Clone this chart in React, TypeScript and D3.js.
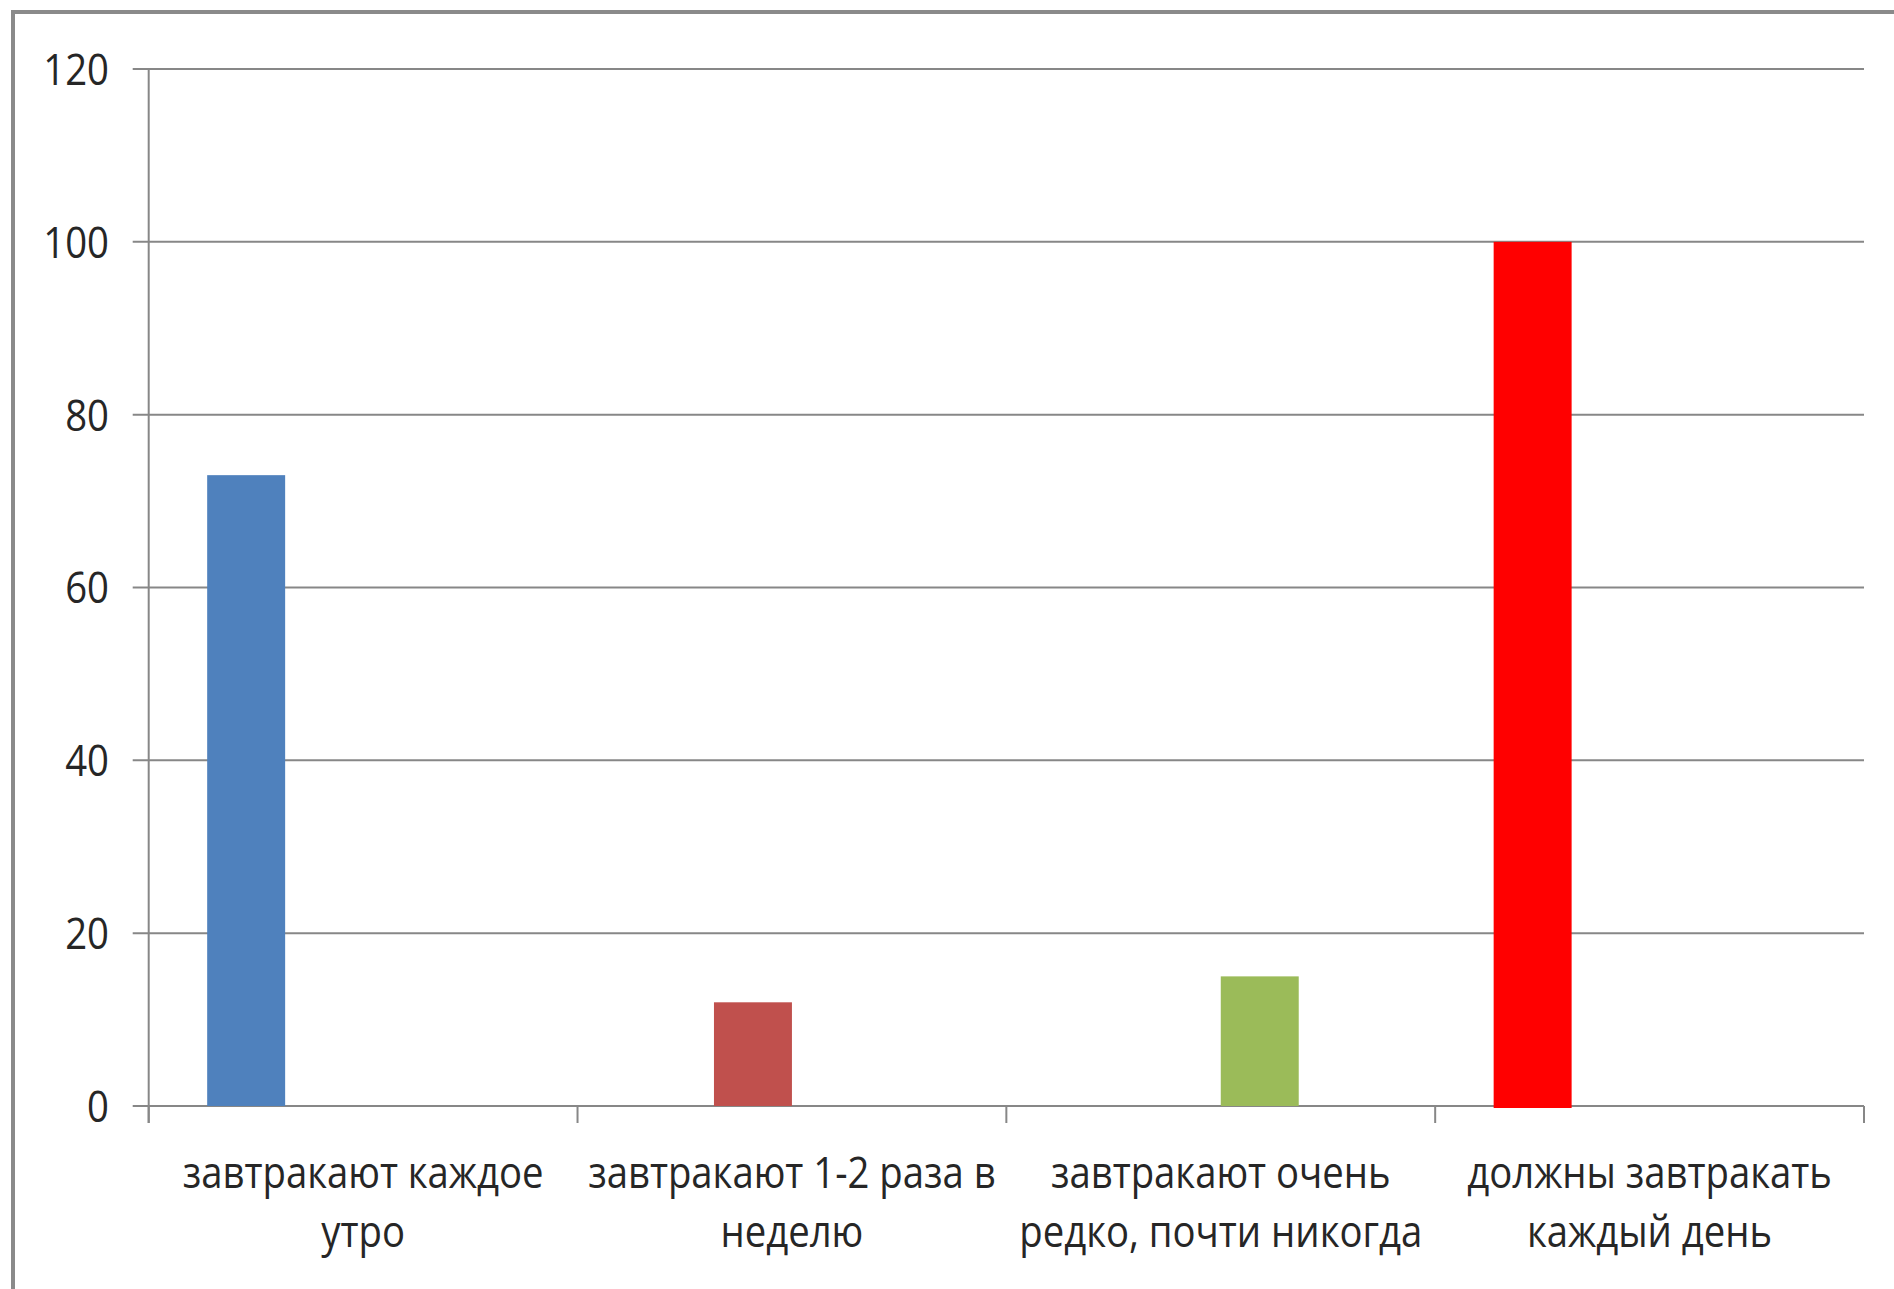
import React from "react";
import * as d3 from "d3";

const categories = ["c1", "c2", "c3", "c4"];
const labelLines = [
  ["завтракают каждое", "утро"],
  ["завтракают 1-2 раза в", "неделю"],
  ["завтракают очень", "редко, почти никогда"],
  ["должны завтракать", "каждый день"],
];
const values = [73, 12, 15, 100];
const seriesSlot = [0, 1, 2, 0];
const barColors = ["#4F81BD", "#C0504D", "#9BBB59", "#FF0000"];
const slots = [0, 1, 2, 3];
const yTicks = [0, 20, 40, 60, 80, 100, 120];

const W = 1894;
const H = 1289;
const FONT = "'Open Sans', sans-serif";
const SQUEEZE = 0.87;

export default function App() {
  const x = d3.scaleBand<string>().domain(categories).range([148.7, 1864]).paddingInner(0).paddingOuter(0);
  const sub = d3.scaleBand<number>().domain(slots).range([0, x.bandwidth()]).paddingInner(0).paddingOuter(0.75);
  const y = d3.scaleLinear().domain([0, 120]).range([1106, 69]);
  const grid = "#878787";
  const x0 = x.range()[0];
  const x1 = x.range()[1];
  const boundaries = [...categories.map((c) => x(c)!), x1];

  return (
    <div style={{ position: "absolute", left: 0, top: 0 }}>
      <svg width={W} height={H} style={{ display: "block", background: "#fff" }}>
        {/* frame */}
        <line x1={13} x2={13} y1={10} y2={H} stroke="#8a8a8a" strokeWidth={4} />
        <line x1={11} x2={W} y1={12} y2={12} stroke="#8a8a8a" strokeWidth={4} />
        {/* gridlines */}
        {yTicks.map((t) => (
          <line key={"g" + t} x1={x0 - 16} x2={x1} y1={y(t)} y2={y(t)} stroke={grid} strokeWidth={2} />
        ))}
        {/* y axis */}
        <line x1={x0} x2={x0} y1={y(120)} y2={y(0) + 17} stroke={grid} strokeWidth={2} />
        {/* category ticks */}
        {boundaries.map((b, i) => (
          <line key={"ct" + i} x1={b} x2={b} y1={y(0)} y2={y(0) + 17} stroke={grid} strokeWidth={2} />
        ))}
        {/* bars */}
        {categories.map((c, i) => (
          <rect
            key={"b" + c}
            x={x(c)! + sub(seriesSlot[i])!}
            y={y(values[i])}
            width={sub.bandwidth()}
            height={y(0) - y(values[i]) + (i === 3 ? 2 : 0)}
            fill={barColors[i]}
          />
        ))}
        {/* y labels */}
        {yTicks.map((t) => (
          <text
            key={"yl" + t}
            transform={`translate(109, ${y(t)}) scale(${SQUEEZE}, 1)`}
            dy="0.36em"
            textAnchor="end"
            fontFamily={FONT}
            fontSize={44}
            fill="#262626"
          >
            {t}
          </text>
        ))}
        {/* category labels */}
        {categories.map((c, i) => (
          <g key={"cl" + c} transform={`translate(${x(c)! + x.bandwidth() / 2}, 0) scale(${SQUEEZE}, 1)`}>
            <text textAnchor="middle" fontFamily={FONT} fontSize={44} fill="#262626">
              {labelLines[i].map((ln, j) => (
                <tspan key={j} x={0} y={1188 + j * 59}>
                  {ln}
                </tspan>
              ))}
            </text>
          </g>
        ))}
      </svg>
    </div>
  );
}
